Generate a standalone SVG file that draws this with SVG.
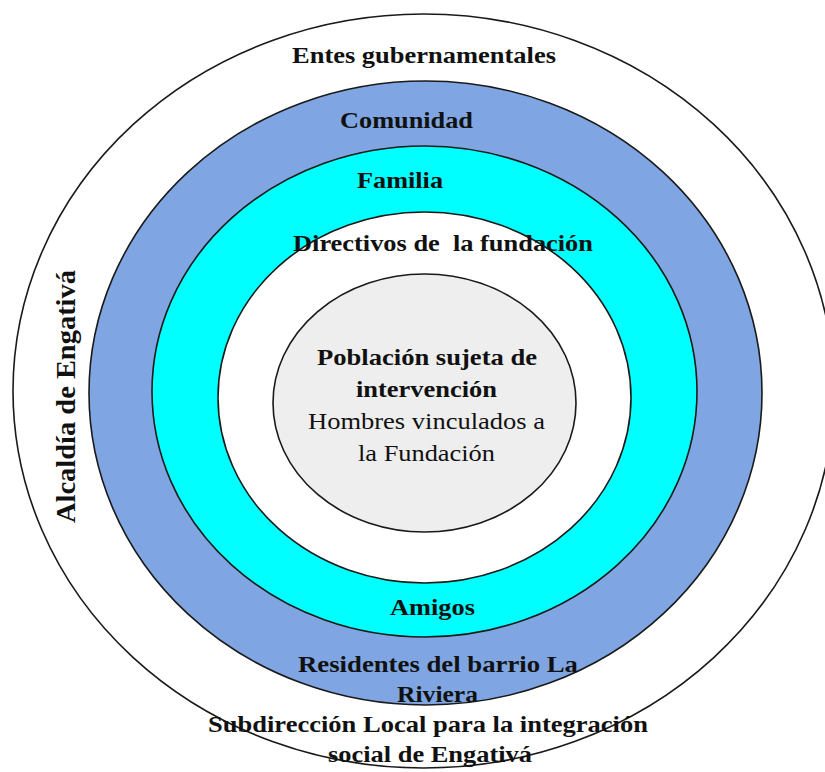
<svg xmlns="http://www.w3.org/2000/svg" width="825" height="772" viewBox="0 0 825 772">
<style>
.ring{stroke:#1a1a1a;stroke-width:1.6}
.t{font-family:"Liberation Serif","Times New Roman",serif;font-size:24px;fill:#111;white-space:pre}
.b{font-weight:bold}
</style>
<rect width="825" height="772" fill="#ffffff"/>
<g id="entes">
<ellipse class="ring" cx="423.5" cy="391" rx="410.5" ry="377" fill="#ffffff"/>
</g>
<g id="comunidad">
<ellipse class="ring" cx="425.5" cy="393" rx="336.5" ry="312" fill="#7fa6e2"/>
</g>
<g id="familia">
<ellipse class="ring" cx="424.5" cy="391.5" rx="272.5" ry="245.5" fill="#00ffff"/>
</g>
<g id="directivos">
<ellipse class="ring" cx="424.5" cy="397.5" rx="206.5" ry="185.5" fill="#ffffff"/>
</g>
<g id="poblacion">
<ellipse class="ring" cx="424.5" cy="403" rx="151.5" ry="129" fill="#eeeeee"/>
</g>
<g id="labels">
<text class="t b" x="292" y="63" textLength="264" lengthAdjust="spacingAndGlyphs">Entes gubernamentales</text>
<text class="t b" x="340" y="128" textLength="133" lengthAdjust="spacingAndGlyphs">Comunidad</text>
<text class="t b" x="357" y="188" textLength="86" lengthAdjust="spacingAndGlyphs">Familia</text>
<text class="t b" x="293" y="251" textLength="300" lengthAdjust="spacingAndGlyphs">Directivos de  la fundación</text>
<text class="t b" x="317" y="365" textLength="220" lengthAdjust="spacingAndGlyphs">Población sujeta de</text>
<text class="t b" x="356" y="397" textLength="141" lengthAdjust="spacingAndGlyphs">intervención</text>
<text class="t" x="308" y="429" textLength="237" lengthAdjust="spacingAndGlyphs">Hombres vinculados a</text>
<text class="t" x="358" y="461" textLength="137" lengthAdjust="spacingAndGlyphs">la Fundación</text>
<text class="t b" x="390" y="615" textLength="85" lengthAdjust="spacingAndGlyphs">Amigos</text>
<text class="t b" x="298" y="672" textLength="280" lengthAdjust="spacingAndGlyphs">Residentes del barrio La</text>
<text class="t b" x="397" y="702" textLength="81" lengthAdjust="spacingAndGlyphs">Riviera</text>
<text class="t b" x="208" y="732" textLength="440" lengthAdjust="spacingAndGlyphs">Subdirección Local para la integración</text>
<text class="t b" x="328" y="762" textLength="204" lengthAdjust="spacingAndGlyphs">social de Engativá</text>
<text class="t b" x="0" y="0" transform="translate(75,523) rotate(-90)" style="font-size:28px" textLength="253" lengthAdjust="spacingAndGlyphs">Alcaldía de Engativá</text>
</g>
</svg>
